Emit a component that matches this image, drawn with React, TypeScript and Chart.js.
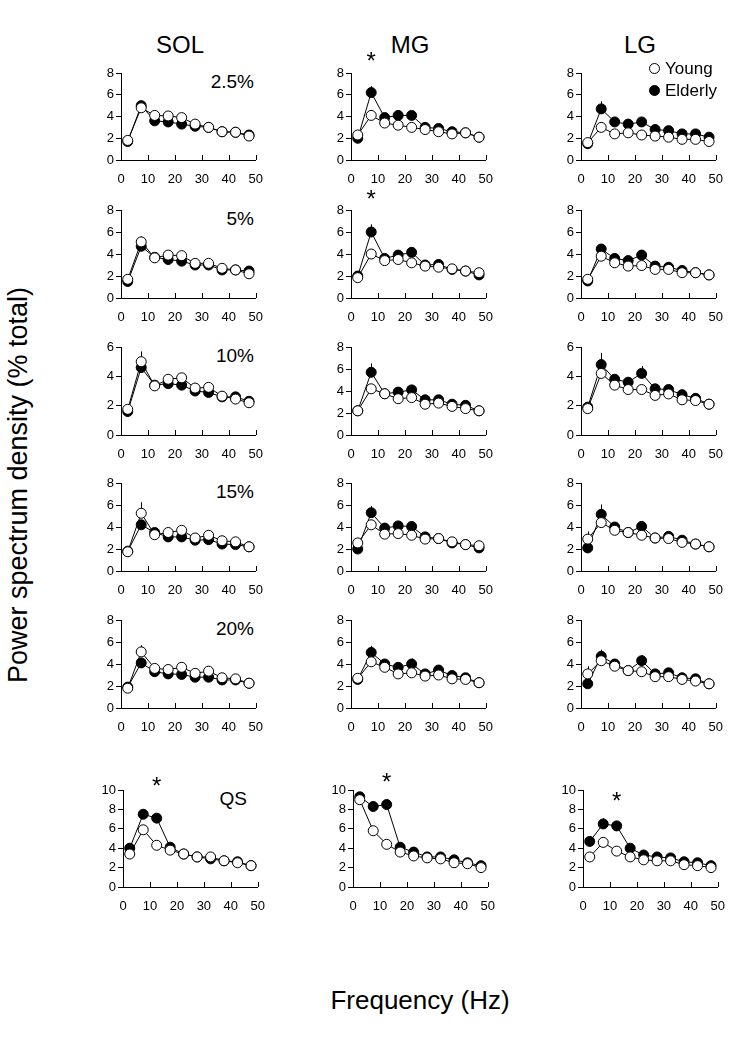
import React, { useEffect, useRef } from "react";
import { Chart, registerables } from "chart.js";
Chart.register(...registerables);

// ---------- data ----------
const freqs = [2.5, 7.5, 12.5, 17.5, 22.5, 27.5, 32.5, 37.5, 42.5, 47.5];
const xTicks = [0, 10, 20, 30, 40, 50];
const muscles = ["SOL", "MG", "LG"];
const conditions = ["2.5%", "5%", "10%", "15%", "20%", "QS"];
const yMaxSOL = [8, 8, 6, 8, 8, 10];
const yMaxMG = [8, 8, 8, 8, 8, 10];
const yMaxLG = [8, 8, 6, 8, 8, 10];

// SOL
const sol25Young = [1.8, 4.8, 4.1, 4.05, 3.9, 3.3, 3.0, 2.6, 2.55, 2.2];
const sol25Elderly = [1.7, 5.0, 3.6, 3.5, 3.3, 3.1, 3.0, 2.6, 2.55, 2.3];
const sol5Young = [1.7, 5.1, 3.65, 3.9, 3.85, 3.15, 3.15, 2.7, 2.55, 2.2];
const sol5Elderly = [1.5, 4.7, 3.7, 3.5, 3.35, 3.0, 3.0, 2.55, 2.55, 2.45];
const sol10Young = [1.75, 5.0, 3.35, 3.8, 3.9, 3.2, 3.25, 2.65, 2.45, 2.2];
const sol10Elderly = [1.6, 4.6, 3.4, 3.5, 3.4, 3.0, 2.9, 2.6, 2.6, 2.3];
const sol15Young = [1.75, 5.25, 3.3, 3.5, 3.7, 3.0, 3.25, 2.75, 2.65, 2.2];
const sol15Elderly = [1.8, 4.2, 3.5, 3.1, 3.1, 2.8, 2.85, 2.45, 2.4, 2.2];
const sol20Young = [1.8, 5.1, 3.6, 3.5, 3.7, 3.15, 3.35, 2.75, 2.65, 2.25];
const sol20Elderly = [1.9, 4.1, 3.3, 3.1, 3.05, 2.8, 2.8, 2.55, 2.55, 2.25];
const solQSYoung = [3.4, 5.9, 4.3, 3.8, 3.4, 3.1, 3.1, 2.7, 2.5, 2.2];
const solQSElderly = [4.0, 7.5, 7.1, 4.1, 3.4, 3.1, 2.9, 2.7, 2.6, 2.2];

// MG
const mg25Young = [2.3, 4.1, 3.4, 3.2, 3.0, 2.8, 2.6, 2.4, 2.5, 2.1];
const mg25Elderly = [2.0, 6.2, 3.9, 4.1, 4.1, 3.0, 2.9, 2.6, 2.5, 2.1];
const mg5Young = [1.85, 4.0, 3.4, 3.5, 3.2, 2.9, 2.8, 2.65, 2.45, 2.3];
const mg5Elderly = [2.0, 6.0, 3.6, 3.9, 4.15, 3.0, 3.05, 2.6, 2.45, 2.1];
const mg10Young = [2.2, 4.2, 3.75, 3.3, 3.4, 2.8, 2.9, 2.6, 2.4, 2.2];
const mg10Elderly = [2.2, 5.7, 3.75, 3.9, 4.1, 3.2, 3.2, 2.8, 2.7, 2.2];
const mg15Young = [2.55, 4.2, 3.35, 3.4, 3.25, 2.9, 2.95, 2.65, 2.4, 2.3];
const mg15Elderly = [2.0, 5.3, 3.9, 4.1, 4.05, 3.1, 2.95, 2.55, 2.4, 2.1];
const mg20Young = [2.7, 4.2, 3.7, 3.1, 3.2, 2.9, 3.0, 2.65, 2.6, 2.3];
const mg20Elderly = [2.6, 5.05, 4.0, 3.7, 4.0, 3.1, 3.45, 2.95, 2.75, 2.3];
const mgQSYoung = [9.0, 5.8, 4.4, 3.6, 3.2, 3.0, 2.9, 2.5, 2.4, 2.0];
const mgQSElderly = [9.3, 8.3, 8.5, 4.1, 3.6, 3.1, 3.1, 2.8, 2.5, 2.2];

// LG
const lg25Young = [1.6, 3.0, 2.4, 2.5, 2.3, 2.2, 2.1, 1.9, 1.9, 1.7];
const lg25Elderly = [1.5, 4.7, 3.5, 3.3, 3.5, 2.8, 2.7, 2.4, 2.4, 2.1];
const lg5Young = [1.7, 3.8, 3.2, 2.9, 2.95, 2.6, 2.6, 2.3, 2.3, 2.1];
const lg5Elderly = [1.55, 4.45, 3.6, 3.4, 3.9, 2.9, 2.8, 2.5, 2.3, 2.1];
const lg10Young = [1.8, 4.2, 3.4, 3.1, 3.1, 2.7, 2.8, 2.4, 2.35, 2.1];
const lg10Elderly = [1.9, 4.8, 3.8, 3.6, 4.2, 3.15, 3.1, 2.75, 2.5, 2.1];
const lg15Young = [2.9, 4.4, 3.7, 3.5, 3.25, 3.0, 2.95, 2.6, 2.45, 2.2];
const lg15Elderly = [2.1, 5.15, 4.0, 3.5, 4.05, 3.0, 3.15, 2.8, 2.45, 2.2];
const lg20Young = [3.1, 4.3, 3.8, 3.4, 3.3, 2.85, 2.85, 2.6, 2.45, 2.2];
const lg20Elderly = [2.2, 4.7, 4.0, 3.4, 4.3, 3.1, 3.2, 2.75, 2.65, 2.2];
const lgQSYoung = [3.1, 4.6, 3.7, 3.1, 2.8, 2.7, 2.7, 2.3, 2.2, 2.0];
const lgQSElderly = [4.7, 6.5, 6.3, 4.0, 3.3, 3.1, 3.0, 2.6, 2.5, 2.2];

// upward SEM bars (0 = hidden behind marker)
const sol25YoungErr = [0, 0, 0, 0, 0, 0, 0, 0, 0, 0];
const sol25ElderlyErr = [0, 0.3, 0, 0, 0, 0, 0, 0, 0, 0];
const sol5YoungErr = [0, 0.5, 0, 0, 0, 0, 0, 0, 0, 0];
const sol5ElderlyErr = [0, 0, 0, 0, 0, 0, 0, 0, 0, 0];
const sol10YoungErr = [0, 0.7, 0, 0, 0, 0, 0, 0, 0, 0];
const sol10ElderlyErr = [0, 0, 0, 0, 0, 0, 0, 0, 0, 0];
const sol15YoungErr = [0, 1.0, 0, 0, 0, 0, 0, 0, 0, 0];
const sol15ElderlyErr = [0, 0, 0, 0, 0, 0, 0, 0, 0, 0];
const sol20YoungErr = [0, 0.6, 0, 0, 0, 0, 0, 0, 0, 0];
const sol20ElderlyErr = [0, 0, 0, 0, 0, 0, 0, 0, 0, 0];
const solQSYoungErr = [0, 0, 0, 0, 0, 0, 0, 0, 0, 0];
const solQSElderlyErr = [0, 0.3, 0.4, 0, 0, 0, 0, 0, 0, 0];

const mg25YoungErr = [0, 0.5, 0, 0, 0, 0, 0, 0, 0, 0];
const mg25ElderlyErr = [0, 0.6, 0, 0.4, 0.4, 0, 0, 0, 0, 0];
const mg5YoungErr = [0, 0, 0, 0, 0, 0, 0, 0, 0, 0];
const mg5ElderlyErr = [0, 0.7, 0, 0, 0.4, 0, 0, 0, 0, 0];
const mg10YoungErr = [0, 0, 0, 0, 0, 0, 0, 0, 0, 0];
const mg10ElderlyErr = [0, 0.8, 0, 0, 0.4, 0, 0, 0, 0, 0];
const mg15YoungErr = [0, 0, 0, 0, 0, 0, 0, 0, 0, 0];
const mg15ElderlyErr = [0, 0.6, 0, 0.4, 0.4, 0, 0, 0, 0, 0];
const mg20YoungErr = [0, 0, 0, 0, 0, 0, 0, 0, 0, 0];
const mg20ElderlyErr = [0, 0.6, 0, 0, 0.5, 0, 0, 0, 0, 0];
const mgQSYoungErr = [0, 0, 0, 0, 0, 0, 0, 0, 0, 0];
const mgQSElderlyErr = [0, 0.3, 0.5, 0, 0, 0, 0, 0, 0, 0];

const lg25YoungErr = [0, 0, 0, 0, 0, 0, 0, 0, 0, 0];
const lg25ElderlyErr = [0, 0.7, 0, 0, 0, 0, 0, 0, 0, 0];
const lg5YoungErr = [0, 0, 0, 0, 0, 0, 0, 0, 0, 0];
const lg5ElderlyErr = [0, 0.3, 0, 0, 0.4, 0, 0, 0, 0, 0];
const lg10YoungErr = [0, 0, 0, 0, 0, 0, 0, 0, 0, 0];
const lg10ElderlyErr = [0, 0.8, 0, 0, 0.5, 0, 0, 0, 0, 0];
const lg15YoungErr = [0.7, 0, 0, 0, 0, 0, 0, 0, 0, 0];
const lg15ElderlyErr = [0, 0.9, 0, 0, 0.5, 0, 0, 0, 0, 0];
const lg20YoungErr = [0.7, 0, 0, 0, 0, 0, 0, 0, 0, 0];
const lg20ElderlyErr = [0, 0.6, 0, 0, 0.5, 0, 0, 0, 0, 0];
const lgQSYoungErr = [0, 0, 0, 0, 0, 0, 0, 0, 0, 0];
const lgQSElderlyErr = [0, 0.6, 0.4, 0, 0, 0, 0, 0, 0, 0];

// significance markers (*): muscle index, condition index, frequency, height
const starMuscle = [1, 1, 0, 1, 2];
const starCondition = [0, 1, 5, 5, 5];
const starFreq = [7.5, 7.5, 12.5, 12.5, 12.5];
const starValue = [9.5, 9.4, 10.9, 11.3, 9.3];

const youngSeries = [
  [sol25Young, sol5Young, sol10Young, sol15Young, sol20Young, solQSYoung],
  [mg25Young, mg5Young, mg10Young, mg15Young, mg20Young, mgQSYoung],
  [lg25Young, lg5Young, lg10Young, lg15Young, lg20Young, lgQSYoung],
];
const elderlySeries = [
  [sol25Elderly, sol5Elderly, sol10Elderly, sol15Elderly, sol20Elderly, solQSElderly],
  [mg25Elderly, mg5Elderly, mg10Elderly, mg15Elderly, mg20Elderly, mgQSElderly],
  [lg25Elderly, lg5Elderly, lg10Elderly, lg15Elderly, lg20Elderly, lgQSElderly],
];
const youngErrs = [
  [sol25YoungErr, sol5YoungErr, sol10YoungErr, sol15YoungErr, sol20YoungErr, solQSYoungErr],
  [mg25YoungErr, mg5YoungErr, mg10YoungErr, mg15YoungErr, mg20YoungErr, mgQSYoungErr],
  [lg25YoungErr, lg5YoungErr, lg10YoungErr, lg15YoungErr, lg20YoungErr, lgQSYoungErr],
];
const elderlyErrs = [
  [sol25ElderlyErr, sol5ElderlyErr, sol10ElderlyErr, sol15ElderlyErr, sol20ElderlyErr, solQSElderlyErr],
  [mg25ElderlyErr, mg5ElderlyErr, mg10ElderlyErr, mg15ElderlyErr, mg20ElderlyErr, mgQSElderlyErr],
  [lg25ElderlyErr, lg5ElderlyErr, lg10ElderlyErr, lg15ElderlyErr, lg20ElderlyErr, lgQSElderlyErr],
];
const yMaxes = [yMaxSOL, yMaxMG, yMaxLG];

// ---------- layout ----------
const FONT = '"Liberation Sans", Arial, Helvetica, sans-serif';
const COL_LEFT = [121, 351, 581];
const ROW_TOP = [73, 210, 347, 483, 620, 790];
const ROW_H = [87, 88, 88, 88, 88, 97];
const QS_SHIFT = 2;
const PLOT_W = 142;
const Y_AXIS_W = 30;
const X_AXIS_H = 32;
const PAD_TOP = 32;
const PAD_RIGHT = 12;

const extrasPlugin = {
  id: "extras",
  beforeDatasetsDraw(chart: any, _args: any, opts: any) {
    const ctx = chart.ctx;
    const xs = chart.scales.x;
    const ys = chart.scales.y;
    ctx.save();
    ctx.strokeStyle = "#000";
    ctx.lineWidth = 1;
    // inward x tick marks
    xs.ticks.forEach((t: any) => {
      const px = Math.round(xs.getPixelForValue(t.value)) + 0.5;
      ctx.beginPath();
      ctx.moveTo(px, ys.bottom);
      ctx.lineTo(px, ys.bottom - 5);
      ctx.stroke();
    });
    // error bars
    chart.data.datasets.forEach((ds: any, di: number) => {
      const err = opts.errs[di];
      ds.data.forEach((p: any, i: number) => {
        if (err[i] > 0) {
          const px = Math.round(xs.getPixelForValue(p.x)) + 0.5;
          ctx.beginPath();
          ctx.moveTo(px, ys.getPixelForValue(p.y));
          ctx.lineTo(px, ys.getPixelForValue(p.y + err[i]));
          ctx.stroke();
        }
      });
    });
    ctx.restore();
  },
  afterDraw(chart: any, _args: any, opts: any) {
    const ctx = chart.ctx;
    const xs = chart.scales.x;
    const ys = chart.scales.y;
    ctx.save();
    ctx.fillStyle = "#000";
    ctx.font = `24px ${FONT}`;
    ctx.textAlign = "center";
    ctx.textBaseline = "alphabetic";
    (opts.stars || []).forEach((s: any) => {
      ctx.fillText("*", xs.getPixelForValue(s.x), ys.getPixelForValue(s.y) + 12.5);
    });
    ctx.restore();
  },
};

function Panel({ m, c }: { m: number; c: number }) {
  const ref = useRef<HTMLCanvasElement>(null);
  const plotLeft = COL_LEFT[m] + (c === 5 ? QS_SHIFT : 0);
  const plotTop = ROW_TOP[c];
  const w = Y_AXIS_W + PLOT_W + PAD_RIGHT;
  const h = PAD_TOP + ROW_H[c] + X_AXIS_H;
  useEffect(() => {
    const young = youngSeries[m][c];
    const elderly = elderlySeries[m][c];
    const stars: any[] = [];
    starMuscle.forEach((sm, i) => {
      if (sm === m && starCondition[i] === c) stars.push({ x: starFreq[i], y: starValue[i] });
    });
    const common = {
      borderColor: "#000",
      borderWidth: 1,
      pointRadius: 5,
      pointBorderColor: "#000",
      pointBorderWidth: 1,
      tension: 0,
      fill: false,
      clip: false as any,
    };
    const chart = new Chart(ref.current as HTMLCanvasElement, {
      type: "line",
      data: {
        datasets: [
          {
            ...common,
            label: "Young",
            data: freqs.map((x, i) => ({ x, y: young[i] })),
            pointBackgroundColor: "#fff",
          },
          {
            ...common,
            label: "Elderly",
            data: freqs.map((x, i) => ({ x, y: elderly[i] })),
            pointBackgroundColor: "#000",
          },
        ],
      },
      options: {
        animation: false,
        responsive: false,
        events: [],
        layout: { padding: { top: PAD_TOP, right: PAD_RIGHT, left: 0, bottom: 0 } },
        plugins: {
          legend: { display: false },
          tooltip: { enabled: false },
          extras: { errs: [youngErrs[m][c], elderlyErrs[m][c]], stars },
        } as any,
        scales: {
          x: {
            type: "linear",
            min: 0,
            max: 50,
            afterBuildTicks: (s: any) => {
              s.ticks = xTicks.map((v) => ({ value: v }));
            },
            ticks: { color: "#000", font: { family: FONT, size: 13 }, padding: 12, maxRotation: 0, autoSkip: false },
            grid: { display: false, drawTicks: false },
            border: { display: true, color: "#000", width: 1 },
            afterFit: (s: any) => {
              s.height = X_AXIS_H;
            },
          },
          y: {
            type: "linear",
            min: 0,
            max: yMaxes[m][c],
            ticks: { stepSize: 2, color: "#000", font: { family: FONT, size: 13 }, padding: 2 },
            grid: { display: true, drawOnChartArea: false, drawTicks: true, tickLength: 5, color: "#000" },
            border: { display: true, color: "#000", width: 1 },
            afterFit: (s: any) => {
              s.width = Y_AXIS_W;
            },
          },
        },
      } as any,
      plugins: [extrasPlugin as any],
    });
    return () => chart.destroy();
  }, [m, c]);
  return (
    <canvas
      ref={ref}
      width={w}
      height={h}
      style={{ position: "absolute", left: plotLeft - Y_AXIS_W, top: plotTop - PAD_TOP, width: w, height: h }}
    />
  );
}

function Text({ x, y, size, align, children }: any) {
  const width = 400;
  const left = align === "left" ? x : align === "right" ? x - width : x - width / 2;
  return (
    <div
      style={{
        position: "absolute",
        left,
        top: y - 0.49 * size,
        width,
        textAlign: align,
        fontSize: size,
        lineHeight: `${size}px`,
        whiteSpace: "nowrap",
        color: "#000",
      }}
    >
      {children}
    </div>
  );
}

export default function App() {
  const panels: any[] = [];
  for (let m = 0; m < 3; m++) for (let c = 0; c < 6; c++) panels.push(<Panel key={`${m}-${c}`} m={m} c={c} />);
  return (
    <div
      style={{
        position: "absolute",
        left: 0,
        top: 0,
        width: 745,
        height: 1050,
        background: "#fff",
        fontFamily: FONT,
        overflow: "hidden",
      }}
    >
      {muscles.map((name, m) => (
        <Text key={name} x={COL_LEFT[m] + 59} y={45} size={24} align="center">
          {name}
        </Text>
      ))}
      {conditions.map((cond, c) => (
        <Text key={cond} x={c === 5 ? 247 : 254} y={ROW_TOP[c] + 8} size={19} align="right">
          {cond}
        </Text>
      ))}
      {panels}
      {/* legend */}
      <div style={{ position: "absolute", left: 649, top: 63, width: 11, height: 11, borderRadius: "50%", border: "1px solid #000", background: "#fff", boxSizing: "border-box" }} />
      <div style={{ position: "absolute", left: 649, top: 85, width: 11, height: 11, borderRadius: "50%", border: "1px solid #000", background: "#000", boxSizing: "border-box" }} />
      <Text x={665} y={68} size={17} align="left">Young</Text>
      <Text x={665} y={90} size={17} align="left">Elderly</Text>
      {/* axis titles */}
      <div
        style={{
          position: "absolute",
          left: 18,
          top: 485,
          transform: "translate(-50%, -50%) rotate(-90deg)",
          fontSize: 27,
          whiteSpace: "nowrap",
          lineHeight: "27px",
        }}
      >
        Power spectrum density (% total)
      </div>
      <Text x={420} y={1000} size={26} align="center">
        Frequency (Hz)
      </Text>
    </div>
  );
}
